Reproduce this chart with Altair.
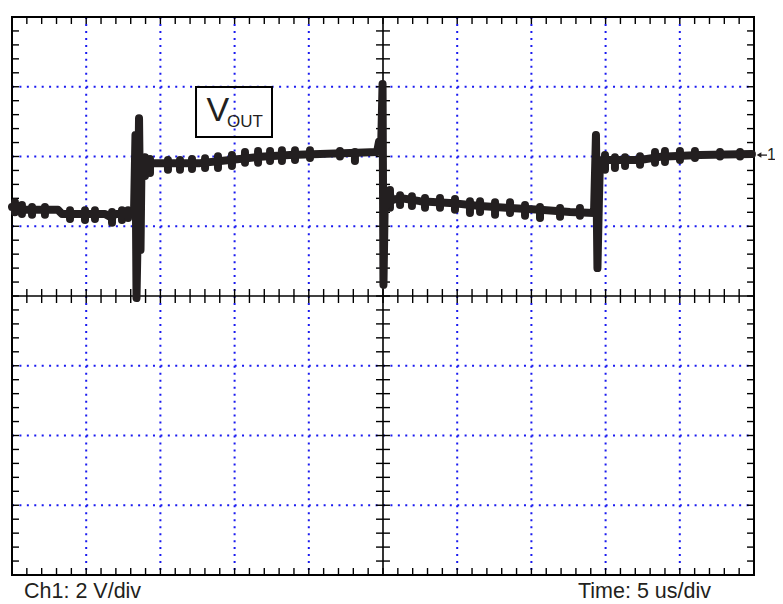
import altair as alt
import numpy as np
import pandas as pd

# ---- data (time in us, voltage in V relative to screen centre; 5 us/div, 2 V/div) ----
trace_t = [0.00, 0.54, 0.81, 3.10, 3.37, 6.27, 6.60, 7.01, 8.22, 8.32, 8.39, 8.46, 8.56, 8.66,
           8.73, 8.83, 8.96, 9.10, 9.30, 12.67, 14.69, 16.71, 18.73, 20.76, 22.78, 24.60, 24.73,
           24.87, 24.97, 25.03, 25.13, 25.27, 25.40, 25.61, 26.15, 27.49, 29.51, 31.54, 33.56,
           35.58, 37.60, 39.22, 39.35, 39.45, 39.55, 39.62, 39.83, 40.03, 42.32, 43.67, 46.36, 49.86]
trace_v = [2.55, 2.58, 2.47, 2.47, 2.35, 2.35, 2.27, 2.35, 2.35, 4.62, -0.06, 1.61, 5.10, 1.32,
           3.90, 3.56, 3.96, 3.67, 3.81, 3.81, 3.90, 3.99, 4.04, 4.07, 4.10, 4.13, 4.42,
           4.19, 6.08, 0.32, 3.04, 2.61, 2.98, 2.75, 2.81, 2.72, 2.67, 2.58, 2.52,
           2.47, 2.41, 2.38, 4.62, 0.80, 2.75, 3.90, 3.67, 3.90, 3.90, 3.99, 4.04, 4.07]

# noise bursts on the trace: time, lower and upper edge (V)
noise_t = [0.20, 0.67, 1.35, 2.22, 3.91, 4.92, 5.59, 6.74, 7.41, 7.82,
           8.96, 9.30, 10.51, 11.32, 12.13, 13.01, 13.88, 14.82, 15.70, 16.58, 17.39, 18.19,
           19.07, 20.08, 22.10, 23.11,
           25.47, 26.15, 26.95, 27.83, 28.84, 29.85, 30.86, 31.54, 32.55, 33.56, 34.57, 35.58,
           36.93, 38.27,
           39.96, 40.63, 41.31, 42.32, 43.33, 44.00, 45.01, 46.02, 47.71, 49.06]
noise_lo = [2.40, 2.35, 2.33, 2.33, 2.21, 2.18, 2.21, 2.10, 2.18, 2.24,
            3.44, 3.53, 3.62, 3.62, 3.64, 3.67, 3.67, 3.73, 3.82, 3.82, 3.87, 3.87,
            3.90, 3.96, 4.00, 3.87,
            2.53, 2.61, 2.58, 2.53, 2.53, 2.47, 2.38, 2.41, 2.33, 2.38, 2.30, 2.24,
            2.27, 2.30,
            3.62, 3.67, 3.73, 3.76, 3.82, 3.84, 3.90, 3.96, 4.00, 4.00]
noise_hi = [2.69, 2.61, 2.55, 2.55, 2.46, 2.46, 2.46, 2.41, 2.46, 2.46,
            3.98, 3.93, 3.90, 3.90, 3.93, 3.95, 4.01, 4.04, 4.13, 4.16, 4.16, 4.18,
            4.18, 4.18, 4.16, 4.13,
            3.04, 2.89, 2.86, 2.81, 2.81, 2.78, 2.72, 2.72, 2.69, 2.69, 2.61, 2.55,
            2.52, 2.52,
            4.04, 3.98, 3.98, 4.01, 4.13, 4.16, 4.16, 4.16, 4.13, 4.13]

grid_t = [5, 10, 15, 20, 30, 35, 40, 45]
grid_v = [-6, -4, -2, 2, 4, 6]
ref_level = 4.04  # channel 1 marker

T0, T1, V0, V1 = 0, 50, -8, 8
W, H = 742, 558

xs = alt.Scale(domain=[T0, T1], nice=False, zero=False)
ys = alt.Scale(domain=[V0, V1], nice=False, zero=False)
X = lambda f: alt.X(f, type="quantitative", scale=xs, axis=None)
Y = lambda f: alt.Y(f, type="quantitative", scale=ys, axis=None)

BLUE = "#1a1af0"
INK = "#231f20"

vgrid = alt.Chart(pd.DataFrame({"t": grid_t, "a": V1, "b": V0})).mark_rule(
    color=BLUE, strokeWidth=2, strokeDash=[2, 4.975]).encode(x=X("t"), y=Y("a"), y2="b")
hgrid = alt.Chart(pd.DataFrame({"v": grid_v, "a": T0, "b": T1})).mark_rule(
    color=BLUE, strokeWidth=2, strokeDash=[2, 5.42]).encode(y=Y("v"), x=X("a"), x2="b")

frame = alt.Chart(pd.DataFrame({"a": [T0], "b": [T1], "c": [V0], "d": [V1]})).mark_rect(
    fillOpacity=0, stroke="black", strokeWidth=2).encode(x=X("a"), x2="b", y=Y("c"), y2="d")
cx = alt.Chart(pd.DataFrame({"t": [25], "a": [V0], "b": [V1]})).mark_rule(
    color="black", strokeWidth=1.6).encode(x=X("t"), y=Y("a"), y2="b")
cy = alt.Chart(pd.DataFrame({"v": [0], "a": [T0], "b": [T1]})).mark_rule(
    color="black", strokeWidth=1.6).encode(y=Y("v"), x=X("a"), x2="b")

tt = np.arange(1, 50, 1.0)
tv = np.round(np.arange(-7.6, 7.7, 0.4), 2)
dv = 0.2    # ~7 px
dt = 0.47   # ~7 px
xt_rows = []
for t in tt:
    xt_rows += [(t, V1, V1 - dv), (t, V0, V0 + dv), (t, -dv, dv)]
yt_rows = []
for v in tv:
    yt_rows += [(v, T0, T0 + dt), (v, T1 - dt, T1), (v, 25 - dt, 25 + dt)]
xticks = alt.Chart(pd.DataFrame(xt_rows, columns=["t", "a", "b"])).mark_rule(
    color="black", strokeWidth=1.4).encode(x=X("t"), y=Y("a"), y2="b")
yticks = alt.Chart(pd.DataFrame(yt_rows, columns=["v", "a", "b"])).mark_rule(
    color="black", strokeWidth=1.4).encode(y=Y("v"), x=X("a"), x2="b")

trace = alt.Chart(pd.DataFrame({"t": trace_t, "v": trace_v, "o": range(len(trace_t))})).mark_line(
    color=INK, strokeWidth=8, strokeJoin="round", strokeCap="round").encode(
    x=X("t"), y=Y("v"), order="o:Q")
noise = alt.Chart(pd.DataFrame({"t": noise_t, "lo": noise_lo, "hi": noise_hi})).mark_rule(
    color=INK, strokeWidth=8, strokeCap="round").encode(x=X("t"), y=Y("lo"), y2="hi")

# annotation box V_OUT
box = alt.Chart(pd.DataFrame({"a": [12.40], "b": [17.52], "c": [4.56], "d": [5.99]})).mark_rect(
    fillOpacity=0, stroke="black", strokeWidth=2).encode(x=X("a"), x2="b", y=Y("c"), y2="d")
vtxt = alt.Chart(pd.DataFrame({"t": [13.10], "v": [5.02], "s": ["V"]})).mark_text(
    font="Liberation Sans", fontSize=34, align="left", baseline="alphabetic", color=INK).encode(
    x=X("t"), y=Y("v"), text="s:N")
otxt = alt.Chart(pd.DataFrame({"t": [14.49], "v": [4.85], "s": ["OUT"]})).mark_text(
    font="Liberation Sans", fontSize=17, align="left", baseline="alphabetic", color=INK).encode(
    x=X("t"), y=Y("v"), text="s:N")

# channel marker at right
ref = pd.DataFrame({"v": [ref_level]})
arrow_line = alt.Chart(ref).mark_rule(color=INK, strokeWidth=1.3).encode(
    y=Y("v"), x=alt.value(W + 6), x2=alt.value(W + 13))
arrow_head = alt.Chart(ref).mark_point(shape="triangle-left", filled=True, color=INK,
                                       size=30, opacity=1).encode(y=Y("v"), x=alt.value(W + 5))
arrow_txt = alt.Chart(pd.DataFrame({"v": [ref_level], "s": ["1"]})).mark_text(
    font="Liberation Sans", fontSize=16, align="left", baseline="middle", color=INK).encode(
    y=Y("v"), x=alt.value(W + 13), text="s:N")

labels = alt.Chart(pd.DataFrame({"s": ["Ch1: 2 V/div", "Time: 5 us/div"], "px": [12, 566]})).mark_text(
    font="Liberation Sans", fontSize=21.5, align="left", baseline="alphabetic", color=INK).encode(
    x=alt.X("px:Q", scale=None, axis=None), y=alt.value(H + 23), text="s:N")

chart = alt.layer(
    vgrid, hgrid, xticks, yticks, cx, cy, frame, noise, trace, box, vtxt, otxt,
    arrow_line, arrow_head, arrow_txt, labels
).properties(
    width=W, height=H,
    autosize=alt.AutoSizeParams(type="none"),
    padding={"left": 4, "top": 9, "right": 21, "bottom": 29},
).configure_view(strokeWidth=0)

chart.save("out.html", embed_options={"renderer": "svg", "actions": False})
